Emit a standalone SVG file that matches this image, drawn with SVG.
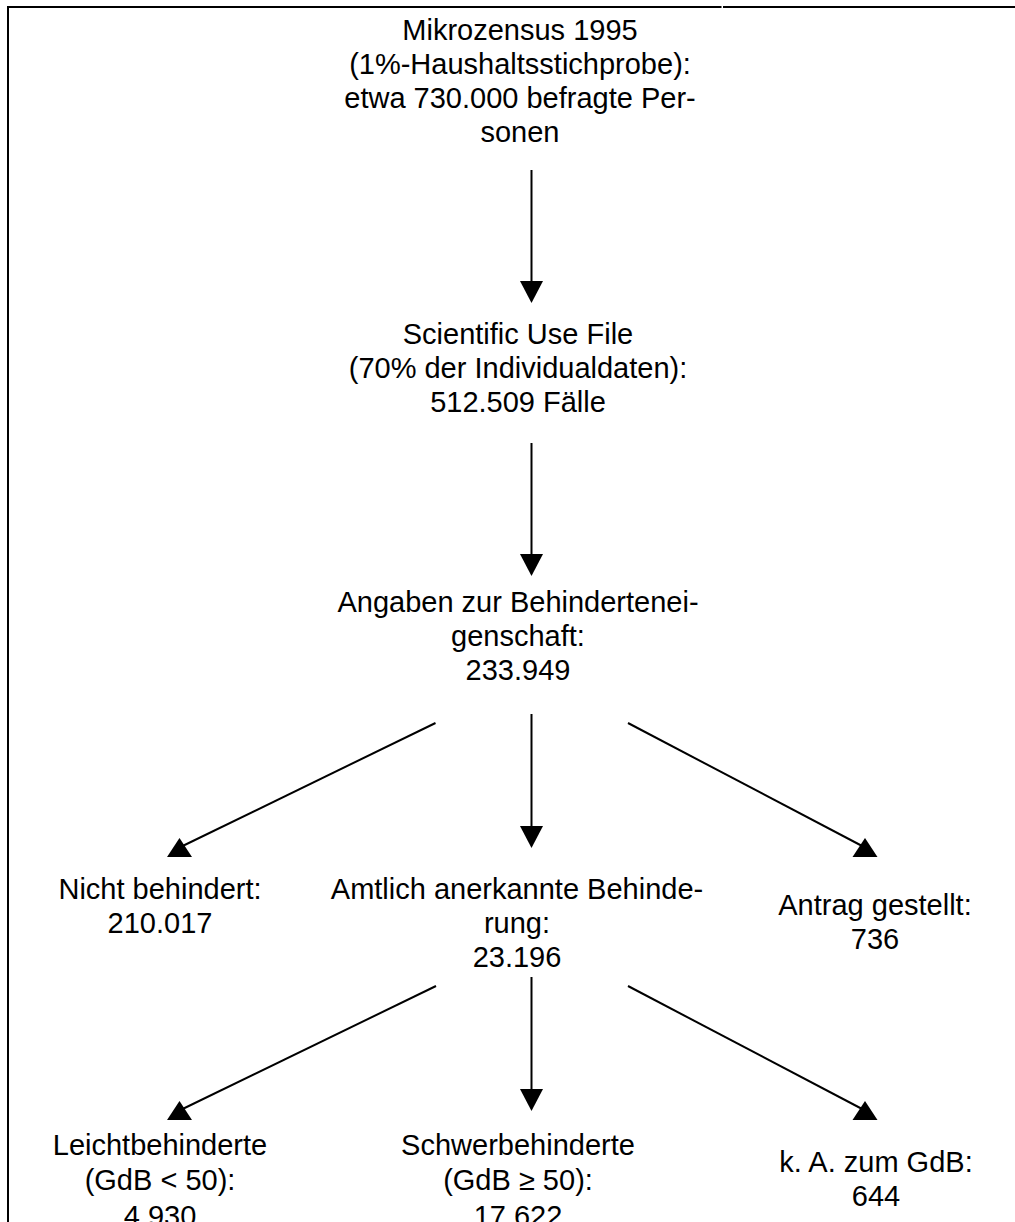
<svg xmlns="http://www.w3.org/2000/svg" width="1015" height="1222" viewBox="0 0 1015 1222">
<style>
  text { font-family: "Liberation Sans", Arial, sans-serif; font-size: 29px; fill: #000; text-anchor: middle; }
  .edge { stroke: #000; stroke-width: 2; fill: none; }
  .frame { stroke: #000; stroke-width: 2; fill: none; }
</style>
<defs>
  <marker id="arrowDown" markerUnits="userSpaceOnUse" viewBox="-13 -13 26 26" refX="0" refY="0" markerWidth="26" markerHeight="26" orient="0">
    <polygon points="-11.5,-11 11.5,-11 0,11" fill="#000"/>
  </marker>
  <marker id="arrowUp" markerUnits="userSpaceOnUse" viewBox="-13 -13 26 26" refX="0" refY="0" markerWidth="26" markerHeight="26" orient="0">
    <polygon points="-12.5,9.5 12.5,9.5 0,-9.5" fill="#000"/>
  </marker>
</defs>
<rect width="1015" height="1222" fill="#fff"/>
<g id="frame">
  <line class="frame" x1="7" y1="7" x2="721.5" y2="7"/>
  <line class="frame" x1="723" y1="7" x2="1015" y2="7"/>
  <line class="frame" x1="8" y1="6" x2="8" y2="1222"/>
</g>
<g id="connectors">
  <line class="edge" x1="531.5" y1="170" x2="531.5" y2="292" marker-end="url(#arrowDown)"/>
  <line class="edge" x1="531.5" y1="443" x2="531.5" y2="565" marker-end="url(#arrowDown)"/>
  <line class="edge" x1="531.5" y1="714" x2="531.5" y2="837" marker-end="url(#arrowDown)"/>
  <line class="edge" x1="435.5" y1="723" x2="179.5" y2="847.5" marker-end="url(#arrowUp)"/>
  <line class="edge" x1="628" y1="723" x2="865" y2="847.5" marker-end="url(#arrowUp)"/>
  <line class="edge" x1="531.5" y1="977" x2="531.5" y2="1100" marker-end="url(#arrowDown)"/>
  <line class="edge" x1="436" y1="986" x2="179.5" y2="1110.5" marker-end="url(#arrowUp)"/>
  <line class="edge" x1="628" y1="986" x2="865" y2="1110.5" marker-end="url(#arrowUp)"/>
</g>
<g id="node-mikrozensus">
  <text x="520" y="40">Mikrozensus 1995</text>
  <text x="520" y="74">(1%-Haushaltsstichprobe):</text>
  <text x="520" y="108">etwa 730.000 befragte Per-</text>
  <text x="520" y="142">sonen</text>
</g>
<g id="node-suf">
  <text x="518" y="344">Scientific Use File</text>
  <text x="518" y="378">(70% der Individualdaten):</text>
  <text x="518" y="412">512.509 Fälle</text>
</g>
<g id="node-angaben">
  <text x="518" y="612">Angaben zur Behindertenei-</text>
  <text x="518" y="646">genschaft:</text>
  <text x="518" y="680">233.949</text>
</g>
<g id="node-nicht">
  <text x="160" y="899">Nicht behindert:</text>
  <text x="160" y="933">210.017</text>
</g>
<g id="node-amtlich">
  <text x="517" y="899">Amtlich anerkannte Behinde-</text>
  <text x="517" y="933">rung:</text>
  <text x="517" y="967">23.196</text>
</g>
<g id="node-antrag">
  <text x="875" y="915">Antrag gestellt:</text>
  <text x="875" y="949">736</text>
</g>
<g id="node-leicht">
  <text x="160" y="1155">Leichtbehinderte</text>
  <text x="160" y="1190">(GdB &lt; 50):</text>
  <text x="160" y="1226">4.930</text>
</g>
<g id="node-schwer">
  <text x="518" y="1155">Schwerbehinderte</text>
  <text x="518" y="1190">(GdB ≥ 50):</text>
  <text x="518" y="1226">17.622</text>
</g>
<g id="node-ka">
  <text x="876" y="1172">k. A. zum GdB:</text>
  <text x="876" y="1206">644</text>
</g>
</svg>
